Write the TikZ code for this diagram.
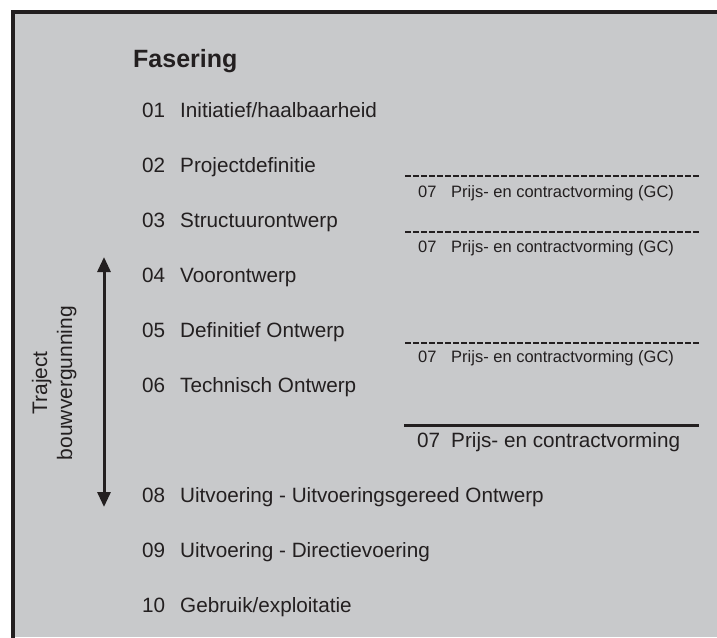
\documentclass[tikz,border=0pt]{standalone}
\usepackage{fontspec}
\setmainfont{Liberation Sans}
\usetikzlibrary{arrows.meta}
\definecolor{bg}{HTML}{C8C9CB}
\definecolor{ink}{HTML}{231F20}
\begin{document}
\begin{tikzpicture}[x=1pt,y=-1pt,
  txt/.style={inner sep=0pt, anchor=base west, text=ink, font=\fontsize{20.7}{24}\selectfont},
  small/.style={inner sep=0pt, anchor=base west, text=ink, font=\fontsize{16.5}{19}\selectfont},
  vtxt/.style={inner sep=0pt, anchor=base, rotate=90, text=ink, font=\fontsize{21}{24}\selectfont},
  title/.style={inner sep=0pt, anchor=base west, text=ink, font=\fontsize{25}{30}\selectfont\bfseries},
  dashline/.style={draw=ink, line width=2.5pt, dash pattern=on 6pt off 2pt},
  solidline/.style={draw=ink, line width=3pt},
  dblarrow/.style={draw=ink, line width=3pt, {Triangle[width=13pt,length=15pt]}-{Triangle[width=13pt,length=15pt]}}]
\useasboundingbox (0,0) rectangle (717,637);
\fill[white] (0,0) rectangle (717,637);
\fill[bg] (13,12) rectangle (717,637);
\draw[ink, line width=4pt] (13,640) -- (13,12) -- (720,12);

\node[title] (title) at (133,67) {Fasering};

\node[txt] (n01) at (142,117) {01}; \node[txt] (t01) at (180,117) {Initiatief/haalbaarheid};
\node[txt] (n02) at (142,172) {02}; \node[txt] (t02) at (180,172) {Projectdefinitie};
\node[txt] (n03) at (142,227) {03}; \node[txt] (t03) at (180,227) {Structuurontwerp};
\node[txt] (n04) at (142,282) {04}; \node[txt] (t04) at (180,282) {Voorontwerp};
\node[txt] (n05) at (142,337) {05}; \node[txt] (t05) at (180,337) {Definitief Ontwerp};
\node[txt] (n06) at (142,392) {06}; \node[txt] (t06) at (180,392) {Technisch Ontwerp};
\node[txt] (n08) at (142,502) {08}; \node[txt] (t08) at (180,502) {Uitvoering - Uitvoeringsgereed Ontwerp};
\node[txt] (n09) at (142,557) {09}; \node[txt] (t09) at (180,557) {Uitvoering - Directievoering};
\node[txt] (n10) at (142,612) {10}; \node[txt] (t10) at (180,612) {Gebruik/exploitatie};

% right column
\coordinate (d1a) at (405,176); \coordinate (d1b) at (700,176);
\coordinate (d2a) at (405,232); \coordinate (d2b) at (700,232);
\coordinate (d3a) at (405,343); \coordinate (d3b) at (700,343);
\coordinate (s1a) at (404,425); \coordinate (s1b) at (699,425);
\draw[dashline] (d1a) -- (d1b);
\draw[dashline] (d2a) -- (d2b);
\draw[dashline] (d3a) -- (d3b);
\draw[solidline] (s1a) -- (s1b);
\node[small] (g1n) at (418,197) {07}; \node[small] (g1t) at (451,197) {Prijs- en contractvorming (GC)};
\node[small] (g2n) at (418,252) {07}; \node[small] (g2t) at (451,252) {Prijs- en contractvorming (GC)};
\node[small] (g3n) at (418,362) {07}; \node[small] (g3t) at (451,362) {Prijs- en contractvorming (GC)};
\node[txt] (p7n) at (417,447) {07}; \node[txt] (p7t) at (451,447) {Prijs- en contractvorming};

% arrow and vertical label
\coordinate (atop) at (104,257);
\coordinate (abot) at (104,507);
\draw[dblarrow] (atop) -- (abot);
\node[vtxt] (v1) at (47,383) {Traject};
\node[vtxt] (v2) at (72,383) {bouwvergunning};
\end{tikzpicture}
\end{document}
